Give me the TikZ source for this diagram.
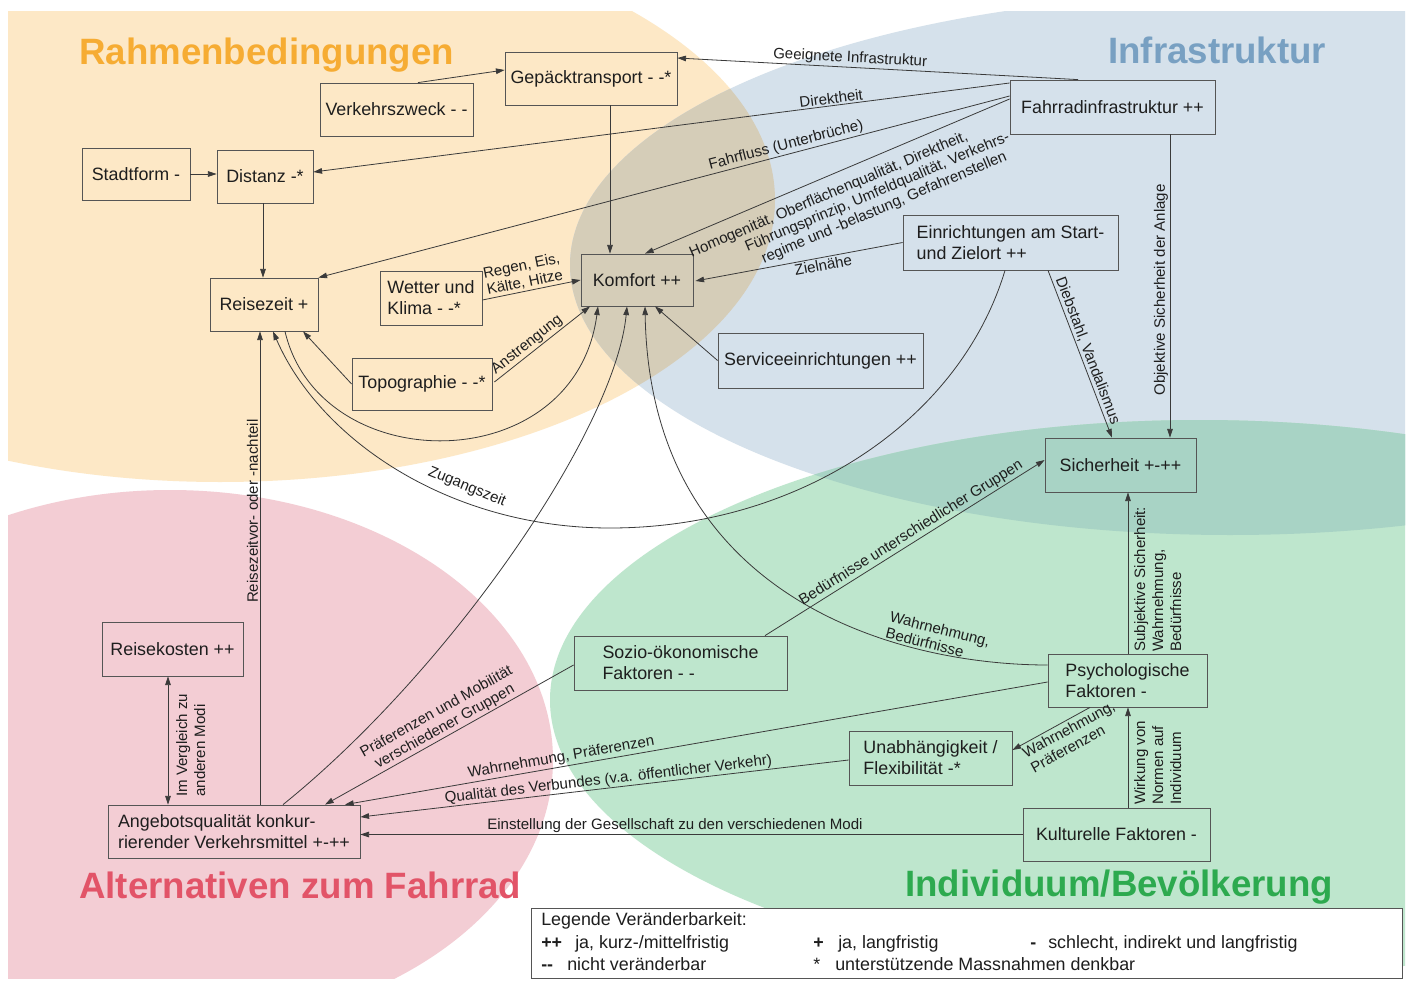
\documentclass[tikz,border=0pt]{standalone}
\usepackage{fontspec}
\setmainfont{Liberation Sans}
\usetikzlibrary{arrows.meta,calc}
\definecolor{cOr}{HTML}{FDE8C6}
\definecolor{cBl}{HTML}{D5E1EB}
\definecolor{cPk}{HTML}{F3CDD4}
\definecolor{cGr}{HTML}{BEE6CD}
\definecolor{cOB}{HTML}{D5CDB8}
\definecolor{cBG}{HTML}{A8D3C5}
\definecolor{tOr}{HTML}{F6AC33}
\definecolor{tBl}{HTML}{78A0C2}
\definecolor{tPk}{HTML}{E25468}
\definecolor{tGr}{HTML}{2DAA4F}
\definecolor{linec}{HTML}{3A3A3A}
\definecolor{boxc}{HTML}{555555}
\definecolor{txtc}{HTML}{1E1E1E}
\newcommand{\myNodeFont}{\fontsize{13.4}{15.8}\selectfont}
\newcommand{\myLabFont}{\fontsize{11.3}{12.6}\selectfont}
\newcommand{\myVLabFont}{\fontsize{11.3}{13.5}\selectfont}
\newcommand{\myTitleFont}{\fontsize{27.5}{30}\selectfont\bfseries}
\newcommand{\myLegFont}{\fontsize{13.4}{15}\selectfont}
\begin{document}
\begin{tikzpicture}[x=0.75pt,y=-0.75pt,
  box/.style n args={2}{draw=boxc, line width=0.6pt, minimum width=#1*0.75pt, minimum height=#2*0.75pt, inner sep=0pt, align=left, font=\myNodeFont, text=txtc},
  arr/.style={draw=linec, line width=0.6pt, -{Triangle[length=6.5pt,width=4.2pt]}},
  lab/.style={font=\myLabFont, text=txtc, inner sep=1.2pt},
  vlab/.style={font=\myVLabFont, text=txtc, inner sep=0pt, rotate=90, align=left, anchor=north west},
  title/.style={font=\myTitleFont, inner sep=0pt, anchor=base west},
  legtext/.style={font=\myLegFont, text=txtc, inner sep=0pt, anchor=base west}]

\useasboundingbox (0,0) rectangle (1411,981);
\fill[white] (0,0) rectangle (1411,981);

% background ellipses
\begin{scope}
\clip (8,12) rectangle (1405,978);
\fill[cOr] (220,200) ellipse [x radius=555, y radius=282];
\fill[cBl] (1230,265) ellipse [x radius=660, y radius=270];
\fill[cPk] (170,760) ellipse [x radius=383, y radius=270];
\fill[cGr] (1200,700) ellipse [x radius=650, y radius=280];
\begin{scope}
\clip (220,200) ellipse [x radius=555, y radius=282];
\fill[cOB] (1230,265) ellipse [x radius=660, y radius=270];
\end{scope}
\begin{scope}
\clip (1230,265) ellipse [x radius=660, y radius=270];
\fill[cBG] (1200,700) ellipse [x radius=650, y radius=280];
\end{scope}
\end{scope}

% titles
\node[title, text=tOr] (t1) at (79,65) {Rahmenbedingungen};
\node[title, text=tBl] (t2) at (1108,64) {Infrastruktur};
\node[title, text=tPk] (t3) at (79,898) {Alternativen zum Fahrrad};
\node[title, text=tGr] (t4) at (905,896) {Individuum/Bevölkerung};

% boxes
\node[box={172}{53}] (gep) at (591,78.5) {Gepäcktransport - -*};
\node[box={153}{53}] (verk) at (396.5,109.5) {Verkehrszweck - -};
\node[box={108}{52}] (stadt) at (136,174) {Stadtform -};
\node[box={96}{53}] (dist) at (265,176.5) {Distanz -*};
\node[box={108}{53}] (reise) at (264,304.5) {Reisezeit +};
\node[box={102}{54}] (wetter) at (431,298) {Wetter und\\Klima - -*};
\node[box={112}{52}] (komf) at (637,280) {Komfort ++};
\node[box={140}{52}] (topo) at (422,384) {Topographie - -*};
\node[box={205}{55}] (serv) at (820.5,360.5) {Serviceeinrichtungen ++};
\node[box={205}{54}] (fahr) at (1112.5,107) {Fahrradinfrastruktur ++};
\node[box={215}{55}] (einr) at (1010.5,242.5) {Einrichtungen am Start-\\und Zielort ++};
\node[box={151}{54}] (sich) at (1120.5,465) {Sicherheit +-++};
\node[box={141}{54}] (kost) at (172.5,649) {Reisekosten ++};
\node[box={252}{53}] (ange) at (234,831.5) {Angebotsqualität konkur-\\rierender Verkehrsmittel +-++};
\node[box={213}{54}] (sozio) at (680.5,663) {Sozio-ökonomische\\Faktoren - -};
\node[box={159}{53}] (psych) at (1127.5,680.5) {Psychologische\\Faktoren -};
\node[box={163}{54}] (unab) at (930.5,758) {Unabhängigkeit /\\Flexibilität -*};
\node[box={187}{53}] (kult) at (1116.5,834.5) {Kulturelle Faktoren -};

% connectors
\draw[arr] ($(verk.north)+(21.5,0)$) -- ($(gep.west)+(0,-8.5)$);
\draw[arr] ($(fahr.north)+(-34.5,0)$) -- node[lab,sloped,above,pos=0.57] (lgeeig) {Geeignete Infrastruktur} ($(gep.east)+(0,-20.5)$);
\draw[arr] ($(fahr.west)+(0,-24)$) -- node[lab,sloped,above,pos=0.255] (ldir) {Direktheit} ($(dist.east)+(0,-4.5)$);
\draw[arr] ($(fahr.west)+(0,-11)$) -- node[lab,sloped,above,pos=0.32] (lflu) {Fahrfluss (Unterbrüche)} (reise.north east);
\draw[arr] ($(fahr.west)+(0,-8)$) -- ($(komf.north)+(8,0)$);
\node[lab, rotate=23, align=left] (lhom) at (853,203) {Homogenität, Oberflächenqualität, Direktheit,\\\hspace*{40pt}Führungsprinzip, Umfeldqualität, Verkehrs-\\\hspace*{48pt}regime und -belastung, Gefahrenstellen};
\draw[arr] ($(gep.south)+(19,0)$) -- ($(komf.north)+(-27,0)$);
\draw[arr] (stadt.east) -- (stadt.east -| dist.west);
\draw[arr] ($(dist.south)+(-2,0)$) -- ($(reise.north)+(-1,0)$);
\draw[arr] ($(wetter.east)+(0,2)$) -- node[lab,sloped,above,pos=0.45,align=center] (lreg) {Regen, Eis,\\Kälte, Hitze} (komf.west);
\draw[arr] ($(topo.east)+(2,-2)$) -- node[lab,sloped,above,pos=0.4] (lans) {Anstrengung} ($(komf.south)+(-47,0)$);
\draw[arr] (topo.west) -- ($(reise.south)+(39,0)$);
\draw[arr] ($(reise.south)+(21,0)$) .. controls (320,480) and (575,480) .. ($(komf.south)+(-39,0)$);
\draw[arr] ($(einr.south)+(-5.5,0)$) .. controls (960,420) and (800,528) .. (610,528) .. controls (450,528) and (320,440) .. ($(reise.south)+(9,0)$);
\node[lab, rotate=-22] (lzug) at (467,487) {Zugangszeit};
\draw[arr] (einr.west) -- node[lab,sloped,below,pos=0.39] (lziel) {Zielnähe} ($(komf.east)+(2,1)$);
\draw[arr] ($(einr.south)+(37.5,0)$) -- node[lab,sloped,above,pos=0.5] (ldieb) {Diebstahl, Vandalismus} ($(sich.north)+(-8.5,0)$);
\draw[arr] ($(fahr.south)+(57.5,0)$) -- node[lab,rotate=90,anchor=south,pos=0.513] (lobj) {Objektive Sicherheit der Anlage} ($(sich.north)+(49.5,0)$);
\draw[arr] (serv.west) -- ($(komf.south)+(18,0)$);
\draw[arr] ($(psych.west)+(0,-15.5)$) .. controls (900,665) and (650,600) .. ($(komf.south)+(8,0)$);
\node[lab, rotate=-14, align=left] (lwb) at (938,637) {Wahrnehmung,\\Bedürfnisse};
\draw[arr] ($(ange.north)+(49,0)$) .. controls (450,670) and (615,430) .. ($(komf.south)+(-10,0)$);
\draw[arr] ($(ange.north)+(26,0)$) -- node[lab,rotate=90,anchor=south,pos=0.62] (lrzv) {Reisezeitvor- oder -nachteil} ($(reise.south)+(-4,0)$);
\draw[draw=linec, line width=0.6pt, {Triangle[length=6.5pt,width=4.2pt]}-{Triangle[length=6.5pt,width=4.2pt]}] ($(kost.south)+(-4.5,0)$) -- ($(ange.north)+(-66,0)$);
\node[vlab] (lverg) at (176,797) {Im Vergleich zu\\anderen Modi};
\draw[arr] ($(sozio.west)+(0,2)$) -- node[lab,sloped,above,pos=0.5,align=center] (lpraef) {Präferenzen und Mobilität\\verschiedener Gruppen} ($(ange.north)+(91,0)$);
\draw[arr] ($(sozio.north)+(84.5,0)$) -- node[lab,sloped,above,pos=0.54] (lbed) {Bedürfnisse unterschiedlicher Gruppen} ($(sich.west)+(0,-5)$);
\draw[arr] ($(psych.west)+(0,1.5)$) -- node[lab,sloped,above,pos=0.69] (lwp) {Wahrnehmung, Präferenzen} ($(ange.north)+(111,0)$);
\draw[arr] ($(unab.west)+(0,2)$) -- node[lab,sloped,above,pos=0.49,inner sep=0.6pt] (lqual) {Qualität des Verbundes (v.a. öffentlicher Verkehr)} ($(ange.east)+(0,-14.5)$);
\draw[arr] (kult.west) -- node[lab,above,pos=0.525] (lein) {Einstellung der Gesellschaft zu den verschiedenen Modi} (kult.west -| ange.east);
\draw[arr] ($(psych.south)+(-37.5,0)$) -- node[lab,sloped,below,pos=0.33,align=left,inner sep=2pt] (lwp2) {Wahrnehmung,\\Präferenzen} ($(unab.east)+(0,-8)$);
\draw[arr] ($(kult.north)+(11.5,0)$) -- ($(psych.south)+(0.5,0)$);
\node[vlab] (lwirk) at (1134,805) {Wirkung von\\Normen auf\\Individuum};
\draw[arr] ($(psych.north)+(0.5,0)$) -- ($(sich.south)+(7.5,0)$);
\node[vlab] (lsubj) at (1134,652) {Subjektive Sicherheit:\\Wahrnehmung,\\Bedürfnisse};

% legend
\node[draw=boxc, line width=0.6pt, fill=white, minimum width=871*0.75pt, minimum height=70*0.75pt, inner sep=0pt] (leg) at (966.5,943) {};
\node[legtext] (lg0) at (541,925) {Legende Veränderbarkeit:};
\node[legtext] (lg1) at (541,948) {\textbf{++}};
\node[legtext] (lg2) at (575,948) {ja, kurz-/mittelfristig};
\node[legtext] (lg3) at (813,948) {\textbf{+}};
\node[legtext] (lg4) at (838,948) {ja, langfristig};
\node[legtext] (lg5) at (1030,948) {\textbf{-}};
\node[legtext] (lg6) at (1048,948) {schlecht, indirekt und langfristig};
\node[legtext] (lg7) at (541,970) {\textbf{-{}-}};
\node[legtext] (lg8) at (567,970) {nicht veränderbar};
\node[legtext] (lg9) at (813,970) {*};
\node[legtext] (lg10) at (835,970) {unterstützende Massnahmen denkbar};
\end{tikzpicture}
\end{document}
